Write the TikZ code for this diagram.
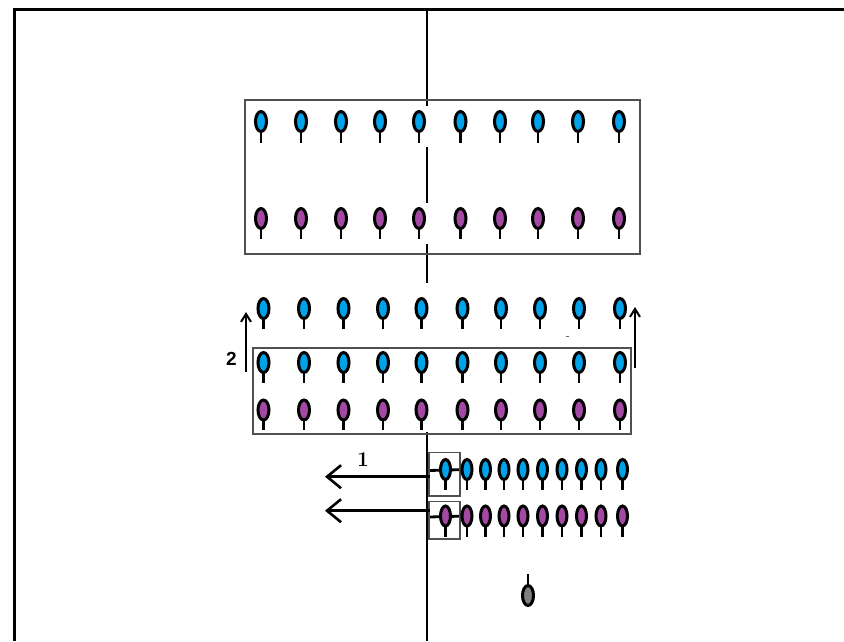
\documentclass[tikz,border=0pt]{standalone}
\usepackage{fontspec}
\newfontfamily\labelsans{Liberation Sans}
\usetikzlibrary{arrows.meta,shapes.geometric,backgrounds}
\definecolor{pinblue}{HTML}{00A2E8}
\definecolor{pinpurple}{HTML}{A349A4}
\definecolor{pingray}{HTML}{7F7F7F}
\definecolor{boxgray}{HTML}{505050}
\newcommand\placepin[6][]{%
  \draw[stemline] (#3,#4) -- ++(0,#6);
  \node[pin,fill=#5,#1] (#2) at (#3,#4) {};}
\begin{document}
\begin{tikzpicture}[x=1pt,y=-1pt,
  pin/.style={ellipse,draw=black,line width=3pt,minimum width=11pt,minimum height=20pt,inner sep=0pt,outer sep=0pt},
  narrowpin/.style={minimum width=10pt},
  stemline/.style={line width=2.8pt,black},
  framebox/.style={draw=boxgray,line width=1.2pt},
  divider/.style={line width=2.2pt,black},
  bigarrow/.style={line width=2.8pt,black,-{Straight Barb[length=14pt,width=23pt,line width=2.6pt]}},
  smallarrow/.style={line width=2.4pt,black,-{Straight Barb[length=8pt,width=10pt,line width=2pt]}},
  linklabel/.style={inner sep=0pt}]
\useasboundingbox (0,0) rectangle (844,641);
% outer frame
\draw[line width=3.5pt,black] (13,9.5) -- (844,9.5);
\draw[line width=3pt,black] (14,8) -- (14,641);
% divider
\draw[divider] (427,9) -- (427,106);
\draw[divider] (427,147) -- (427,203);
\draw[divider] (427,244) -- (427,283);
\draw[divider] (427,432) -- (427,641);
% boxes
\node[framebox,rectangle,inner sep=0pt,minimum width=395pt,minimum height=154pt] (topbox) at (442.5,177) {};
\node[framebox,rectangle,inner sep=0pt,minimum width=378pt,minimum height=86pt] (midbox) at (442,391) {};
\node[framebox,rectangle,inner sep=0pt,minimum width=31pt,minimum height=43.3pt] (sbox1) at (444.5,474.35) {};
\node[framebox,rectangle,inner sep=0pt,minimum width=31pt,minimum height=37.3pt] (sbox2) at (444.5,520.35) {};
% top box pins
\foreach \x [count=\i] in {261,301,341,380,419,460.5,500,538,578,619}{
  \placepin{tb\i}{\x}{121.5}{pinblue}{21}
  \placepin{tp\i}{\x}{218.5}{pinpurple}{20.5}
}
% middle pins
\foreach \x [count=\i] in {263.5,304,343.5,383,421.5,462.5,501,540,579,620}{
  \placepin{mu\i}{\x}{308.5}{pinblue}{20}
  \placepin{mb\i}{\x}{362.5}{pinblue}{20}
  \placepin{mp\i}{\x}{410}{pinpurple}{20}
}
% bottom rows
\foreach \x [count=\i] in {445.5,467,485.5,504,523,542.5,562,581.5,601,622.5}{
  \placepin[narrowpin]{bb\i}{\x}{469.5}{pinblue}{20.5}
  \placepin[narrowpin]{bp\i}{\x}{516}{pinpurple}{20.5}
}
% gray pin
\placepin[narrowpin,minimum width=11pt]{gp}{528}{595.5}{pingray}{-21.5}
% connectors behind the first bottom pins
\coordinate (cb) at (429,470.5);
\coordinate (cp) at (429,517);
\begin{scope}[on background layer]
\draw[stemline] (cb) -- (bb2.center);
\draw[stemline] (cp) -- (bp2.center);
\end{scope}
% arrows 1
\coordinate (a1s) at (430,476.7);
\coordinate (a1e) at (325,476.7);
\coordinate (a2s) at (430,510.7);
\coordinate (a2e) at (325,510.7);
\draw[bigarrow] (a1s) -- (a1e);
\draw[bigarrow] (a2s) -- (a2e);
\node[linklabel,font=\fontsize{21}{21}\selectfont\bfseries] (lab1) at (363,460) {1};
% arrows 2
\coordinate (l2s) at (246,372);
\coordinate (l2e) at (246,312);
\coordinate (r2s) at (635,368);
\coordinate (r2e) at (635,307);
\draw[smallarrow] (l2s) -- (l2e);
\draw[smallarrow] (r2s) -- (r2e);
\node[linklabel,font=\labelsans\fontsize{19}{19}\selectfont\bfseries] (lab2) at (231.5,359) {2};
% stray dot
\fill[black!60] (566,335.5) rectangle (568.5,337);
\end{tikzpicture}
\end{document}
